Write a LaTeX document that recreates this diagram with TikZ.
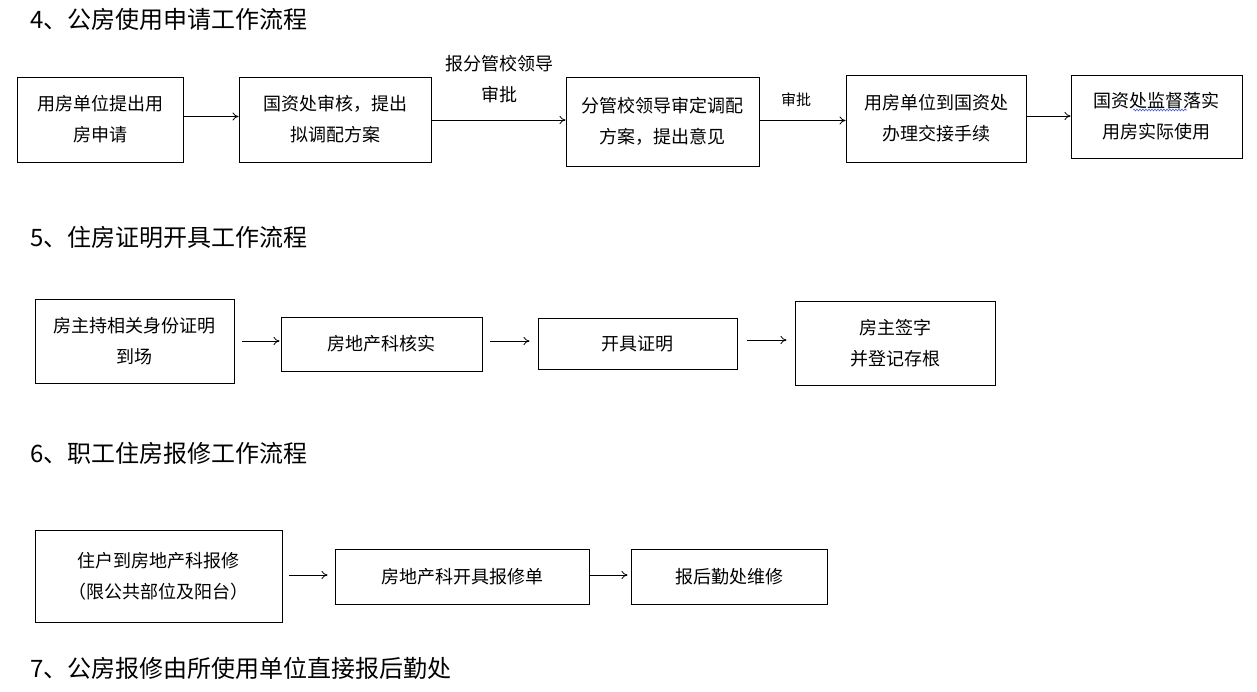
\documentclass[tikz,border=0pt]{standalone}
\usepackage{fontspec}
\setmainfont{Noto Sans CJK SC}
\usetikzlibrary{arrows.meta,decorations.pathmorphing}
\definecolor{spell}{HTML}{4060D0}
\begin{document}
\begin{tikzpicture}[x=1pt,y=-1pt,
  box/.style={draw, line width=0.9pt, inner sep=0pt, align=center,
    font=\fontsize{18}{31}\selectfont},
  arr/.style={-{To[length=6pt,width=8pt]}, line width=0.8pt},
  head/.style={anchor=west, inner sep=0pt, font=\fontsize{24}{28}\selectfont},
  lbl/.style={inner sep=0pt, align=center, font=\fontsize{18}{31}\selectfont}]
\useasboundingbox (0,0) rectangle (1257,692);

% headings
\node[head] (h4) at (30,19) {4、公房使用申请工作流程};
\node[head] (h5) at (30,237) {5、住房证明开具工作流程};
\node[head] (h6) at (30,453) {6、职工住房报修工作流程};
\node[head] (h7) at (30,668) {7、公房报修由所使用单位直接报后勤处};

% row 1
\node[box, minimum width=166, minimum height=85] (a1) at (100,119.5) {用房单位提出用\\房申请};
\node[box, minimum width=192, minimum height=85] (a2) at (335,119.5) {国资处审核，提出\\拟调配方案};
\node[lbl, fill=white, minimum width=133, minimum height=70] (l1) at (499,79) {报分管校领导\\审批};
\node[box, minimum width=193, minimum height=89] (a3) at (662.5,121.5) {分管校领导审定调配\\方案，提出意见};
\node[inner sep=0pt, font=\fontsize{15}{16}\selectfont] (l2) at (796,100) {审批};
\node[box, minimum width=180, minimum height=87] (a4) at (936,118.5) {用房单位到国资处\\办理交接手续};
\node[box, minimum width=171, minimum height=83] (a5) at (1156.5,116.5) {国资处监督落实\\用房实际使用};
\coordinate (w1) at (1133,110);
\coordinate (w2) at (1187,110);
\draw[spell, line width=0.6pt, decorate, decoration={snake, segment length=3pt, amplitude=0.9pt}] (w1) -- (w2);

\draw[arr] (a1.east |- {(0,116.5)}) -- (a2.west |- {(0,116.5)});
\draw[arr] (a2.east |- {(0,120)}) -- (a3.west |- {(0,120)});
\draw[arr] (a3.east |- {(0,120.5)}) -- (a4.west |- {(0,120.5)});
\draw[arr] (a4.east |- {(0,116)}) -- (a5.west |- {(0,116)});

% row 2
\node[box, minimum width=199, minimum height=84] (b1) at (134.5,341) {房主持相关身份证明\\到场};
\node[box, minimum width=201, minimum height=54] (b2) at (381.5,344) {房地产科核实};
\node[box, minimum width=199, minimum height=51] (b3) at (637.5,343.5) {开具证明};
\node[box, minimum width=200, minimum height=84] (b4) at (895,343) {房主签字\\并登记存根};

\draw[arr, shorten <=8pt, shorten >=1pt] (b1.east |- {(0,341)}) -- (b2.west |- {(0,341)});
\draw[arr, shorten <=8pt, shorten >=8pt] (b2.east |- {(0,341)}) -- (b3.west |- {(0,341)});
\draw[arr, shorten <=10pt, shorten >=8pt] (b3.east |- {(0,340)}) -- (b4.west |- {(0,340)});

% row 3
\node[box, minimum width=247, minimum height=92] (c1) at (158.5,576) {住户到房地产科报修\\（限公共部位及阳台）};
\node[box, minimum width=254, minimum height=55] (c2) at (462,576.5) {房地产科开具报修单};
\node[box, minimum width=196, minimum height=55] (c3) at (729,576.5) {报后勤处维修};

\draw[arr, shorten <=7pt, shorten >=7pt] (c1.east |- {(0,575)}) -- (c2.west |- {(0,575)});
\draw[arr, shorten >=3pt] (c2.east |- {(0,575)}) -- (c3.west |- {(0,575)});
\end{tikzpicture}
\end{document}
